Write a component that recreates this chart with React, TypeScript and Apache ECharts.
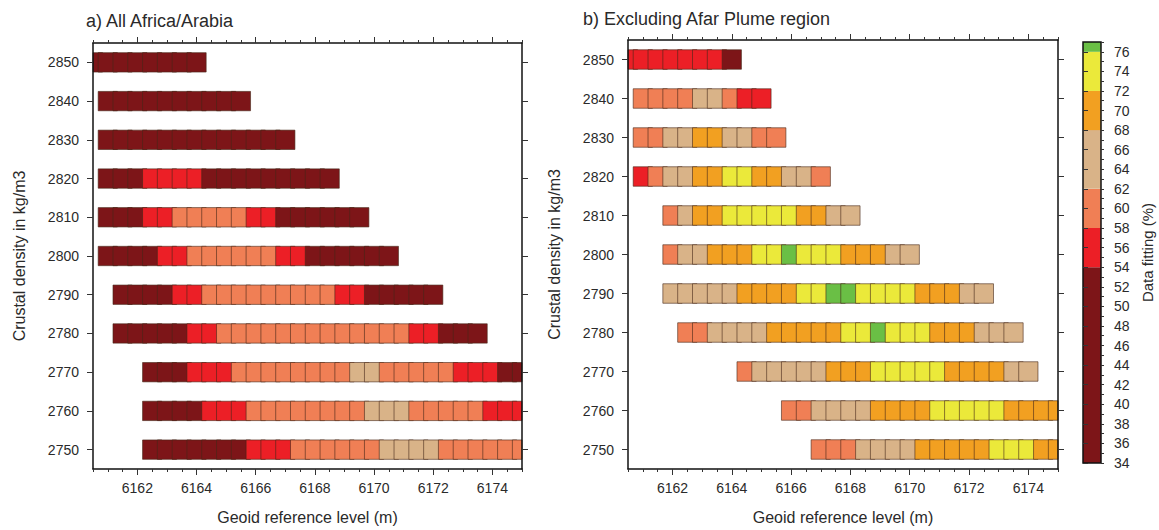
import React, { useEffect, useRef } from "react";
import * as echarts from "echarts";

// Crustal density rows (kg/m3), top to bottom
const densities = [2850, 2840, 2830, 2820, 2810, 2800, 2790, 2780, 2770, 2760, 2750];
// Geoid reference level tick labels (m)
const geoidTicks = [6162, 6164, 6166, 6168, 6170, 6172, 6174];
const geoidMin = 6160.5;
const geoidMax = 6175;
const geoidStep = 0.5;
// Colour-bar classes (data fitting %)
const fitTicks = [34, 36, 38, 40, 42, 44, 46, 48, 50, 52, 54, 56, 58, 60, 62, 64, 66, 68, 70, 72, 74, 76];
const bandEdges = [34, 54, 58, 62, 68, 72, 76, 77];
const bandColors = ["#7d1518", "#ec1f26", "#f07f55", "#d9b388", "#f2a021", "#ebe93a", "#6abf45"];

// Panel a) All Africa/Arabia: first geoid level of each row, then data fitting (%) every 0.5 m
const startA = [6160.5, 6161, 6161, 6161, 6161, 6161, 6161.5, 6161.5, 6162.5, 6162.5, 6162.5];
const fitA2850 = [46, 46, 46, 46, 46, 46, 46, 46];
const fitA2840 = [46, 46, 46, 46, 46, 46, 46, 46, 46, 46];
const fitA2830 = [46, 46, 46, 46, 46, 46, 46, 46, 46, 46, 46, 46, 46];
const fitA2820 = [46, 46, 46, 56, 56, 56, 56, 46, 46, 46, 46, 46, 46, 46, 46, 46];
const fitA2810 = [46, 46, 46, 56, 56, 60, 60, 60, 60, 60, 56, 56, 46, 46, 46, 46, 46, 46];
const fitA2800 = [46, 46, 46, 46, 56, 56, 60, 60, 60, 60, 60, 60, 56, 56, 46, 46, 46, 46, 46, 46];
const fitA2790 = [46, 46, 46, 46, 56, 56, 60, 60, 60, 60, 60, 60, 60, 60, 60, 56, 56, 46, 46, 46, 46, 46];
const fitA2780 = [46, 46, 46, 46, 46, 56, 56, 60, 60, 60, 60, 60, 60, 60, 60, 60, 60, 60, 60, 60, 56, 56, 46, 46, 46];
const fitA2770 = [46, 46, 46, 56, 56, 56, 60, 60, 60, 60, 60, 60, 60, 60, 64, 64, 60, 60, 60, 60, 60, 56, 56, 56, 46, 46];
const fitA2760 = [46, 46, 46, 46, 56, 56, 56, 60, 60, 60, 60, 60, 60, 60, 60, 64, 64, 64, 60, 60, 60, 60, 60, 56, 56, 56];
const fitA2750 = [46, 46, 46, 46, 46, 46, 46, 56, 56, 56, 60, 60, 60, 60, 60, 60, 64, 64, 64, 64, 60, 60, 60, 60, 60, 60];
const rowsA = [fitA2850, fitA2840, fitA2830, fitA2820, fitA2810, fitA2800, fitA2790, fitA2780, fitA2770, fitA2760, fitA2750];

// Panel b) Excluding Afar Plume region
const startB = [6160.5, 6161, 6161, 6161, 6162, 6162, 6162, 6162.5, 6164.5, 6166, 6167];
const fitB2850 = [56, 56, 56, 56, 56, 56, 56, 46];
const fitB2840 = [60, 60, 60, 60, 64, 64, 60, 56, 56];
const fitB2830 = [60, 60, 64, 64, 70, 70, 64, 64, 60, 60];
const fitB2820 = [56, 60, 64, 64, 70, 70, 74, 74, 70, 70, 64, 64, 60];
const fitB2810 = [60, 64, 70, 70, 74, 74, 74, 74, 74, 70, 70, 64, 64];
const fitB2800 = [60, 64, 64, 70, 70, 70, 74, 74, 76.5, 74, 74, 74, 70, 70, 70, 64, 64];
const fitB2790 = [64, 64, 64, 64, 64, 70, 70, 70, 70, 74, 74, 76.5, 76.5, 74, 74, 74, 74, 70, 70, 70, 64, 64];
const fitB2780 = [60, 60, 64, 64, 64, 64, 70, 70, 70, 70, 70, 74, 74, 76.5, 74, 74, 74, 70, 70, 70, 64, 64, 64];
const fitB2770 = [60, 64, 64, 64, 64, 64, 70, 70, 70, 74, 74, 74, 74, 74, 70, 70, 70, 70, 64, 64];
const fitB2760 = [60, 60, 64, 64, 64, 64, 70, 70, 70, 70, 74, 74, 74, 74, 74, 70, 70, 70, 70];
const fitB2750 = [60, 60, 60, 64, 64, 64, 64, 70, 70, 70, 70, 70, 74, 74, 74, 70, 70];
const rowsB = [fitB2850, fitB2840, fitB2830, fitB2820, fitB2810, fitB2800, fitB2790, fitB2780, fitB2770, fitB2760, fitB2750];

const FONT = "'Liberation Sans', Arial, Helvetica, sans-serif";
const TEXT = "#2a2a2a";
const plain = (v: number) => String(v);

function colorOf(v: number): string {
  for (let i = 0; i < bandColors.length; i++) {
    if (v < bandEdges[i + 1]) return bandColors[i];
  }
  return bandColors[bandColors.length - 1];
}

function buildCells(starts: number[], rows: number[][]) {
  const out: number[][] = [];
  rows.forEach((row, i) => {
    row.forEach((v, k) => {
      out.push([starts[i] + geoidStep * k, densities[i], v]);
    });
  });
  return out;
}

const renderCell = (params: any, api: any) => {
  const x = api.value(0);
  const y = api.value(1);
  const v = api.value(2);
  const a = api.coord([x - 0.325, y + 2.5]);
  const b = api.coord([x + 0.325, y - 2.5]);
  const cs = params.coordSys;
  const shape = echarts.graphic.clipRectByRect(
    { x: a[0], y: a[1], width: b[0] - a[0], height: b[1] - a[1] },
    { x: cs.x, y: cs.y, width: cs.width, height: cs.height }
  );
  if (!shape) return null;
  return {
    type: "rect",
    shape,
    style: { fill: colorOf(v), stroke: "rgba(70,40,25,0.6)", lineWidth: 1 },
  };
};

const renderBand = (params: any, api: any) => {
  const lo = api.value(0);
  const hi = api.value(1);
  const idx = api.value(2);
  const a = api.coord([0, hi]);
  const b = api.coord([1, lo]);
  return {
    type: "rect",
    shape: { x: a[0], y: a[1], width: b[0] - a[0], height: b[1] - a[1] },
    style: { fill: bandColors[idx] },
  };
};

function xAxesFor(gridIndex: number, withName: boolean) {
  const base = {
    gridIndex,
    type: "value",
    min: geoidMin,
    max: geoidMax,
    splitLine: { show: false },
    z: 5,
  };
  return [
    {
      ...base,
      position: "bottom",
      axisLine: { show: true, lineStyle: { color: "#111", width: 1.5 } },
      axisTick: { show: true, customValues: geoidTicks, length: 6, lineStyle: { color: "#333" } },
      axisLabel: {
        show: true,
        customValues: geoidTicks,
        formatter: plain,
        margin: 12,
        color: TEXT,
        fontSize: 14,
        fontFamily: FONT,
      },
      name: withName ? "Geoid reference level (m)" : "",
      nameLocation: "middle",
      nameGap: 40,
      nameTextStyle: { color: TEXT, fontSize: 16, fontFamily: FONT },
    },
    {
      ...base,
      position: "bottom",
      interval: geoidStep,
      axisLine: { show: false },
      axisTick: { show: true, length: 3, lineStyle: { color: "#333" } },
      axisLabel: { show: false },
    },
    {
      ...base,
      position: "top",
      axisLine: { show: true, lineStyle: { color: "#111", width: 1.5 } },
      axisTick: { show: true, customValues: geoidTicks, length: 6, lineStyle: { color: "#333" } },
      axisLabel: { show: false },
    },
    {
      ...base,
      position: "top",
      interval: geoidStep,
      axisLine: { show: false },
      axisTick: { show: true, length: 3, lineStyle: { color: "#333" } },
      axisLabel: { show: false },
    },
  ];
}

function yAxesFor(gridIndex: number, nameGap: number) {
  const base = {
    gridIndex,
    type: "value",
    min: 2745,
    max: 2855,
    splitLine: { show: false },
    z: 5,
  };
  return [
    {
      ...base,
      position: "left",
      axisLine: { show: true, lineStyle: { color: "#111", width: 1.5 } },
      axisTick: { show: true, customValues: densities, length: 6, lineStyle: { color: "#333" } },
      axisLabel: {
        show: true,
        customValues: densities,
        formatter: plain,
        margin: 14,
        color: TEXT,
        fontSize: 14,
        fontFamily: FONT,
      },
      name: "Crustal density in kg/m3",
      nameLocation: "middle",
      nameGap,
      nameRotate: 90,
      nameTextStyle: { color: TEXT, fontSize: 16, fontFamily: FONT },
    },
    {
      ...base,
      position: "right",
      axisLine: { show: true, lineStyle: { color: "#111", width: 1.5 } },
      axisTick: { show: true, customValues: densities, length: 6, lineStyle: { color: "#333" } },
      axisLabel: { show: false },
    },
  ];
}

export default function App() {
  const ref = useRef<HTMLDivElement>(null);

  useEffect(() => {
    if (!ref.current) return;
    const chart = echarts.init(ref.current, null, { renderer: "svg" });
    const bands = bandColors.map((_, i) => [bandEdges[i], bandEdges[i + 1], i]);

    chart.setOption({
      animation: false,
      backgroundColor: "#ffffff",
      textStyle: { fontFamily: FONT },
      title: [
        {
          text: "a) All Africa/Arabia",
          left: 86,
          top: 12,
          padding: 0,
          textStyle: { fontSize: 18, fontWeight: "normal", color: TEXT, fontFamily: FONT },
        },
        {
          text: "b) Excluding Afar Plume region",
          left: 583,
          top: 10,
          padding: 0,
          textStyle: { fontSize: 18, fontWeight: "normal", color: TEXT, fontFamily: FONT },
        },
      ],
      grid: [
        { left: 93, top: 43, width: 429, height: 429 },
        { left: 628, top: 40, width: 430, height: 429 },
        {
          left: 1083,
          top: 42,
          width: 18,
          height: 421,
          show: true,
          borderColor: "#111",
          borderWidth: 1.5,
          backgroundColor: "transparent",
          z: 6,
        },
      ],
      xAxis: [
        ...xAxesFor(0, true),
        ...xAxesFor(1, true),
        { gridIndex: 2, type: "value", min: 0, max: 1, show: false },
      ],
      yAxis: [
        ...yAxesFor(0, 66),
        ...yAxesFor(1, 66),
        {
          gridIndex: 2,
          type: "value",
          min: 34,
          max: 77,
          position: "right",
          splitLine: { show: false },
          axisLine: { show: false },
          axisTick: { show: true, customValues: fitTicks, length: 5, lineStyle: { color: "#333" } },
          axisLabel: {
            show: true,
            customValues: fitTicks,
            formatter: plain,
            margin: 13,
            color: TEXT,
            fontSize: 14,
            fontFamily: FONT,
          },
          name: "Data fitting (%)",
          nameLocation: "middle",
          nameGap: 39,
          nameRotate: 90,
          nameTextStyle: { color: TEXT, fontSize: 15, fontFamily: FONT },
          z: 7,
        },
        {
          gridIndex: 2,
          type: "value",
          min: 34,
          max: 77,
          interval: 1,
          position: "right",
          splitLine: { show: false },
          axisLine: { show: false },
          axisTick: { show: true, length: 3, lineStyle: { color: "#333" } },
          axisLabel: { show: false },
          z: 7,
        },
      ],
      series: [
        {
          type: "custom",
          xAxisIndex: 0,
          yAxisIndex: 0,
          renderItem: renderCell,
          data: buildCells(startA, rowsA),
          z: 1,
        },
        {
          type: "custom",
          xAxisIndex: 4,
          yAxisIndex: 2,
          renderItem: renderCell,
          data: buildCells(startB, rowsB),
          z: 1,
        },
        {
          type: "custom",
          xAxisIndex: 8,
          yAxisIndex: 4,
          renderItem: renderBand,
          data: bands,
          z: 1,
        },
      ],
    });

    return () => {
      chart.dispose();
    };
  }, []);

  return (
    <div
      ref={ref}
      style={{ position: "absolute", left: 0, top: 0, width: 1159, height: 530, background: "#fff" }}
    />
  );
}
